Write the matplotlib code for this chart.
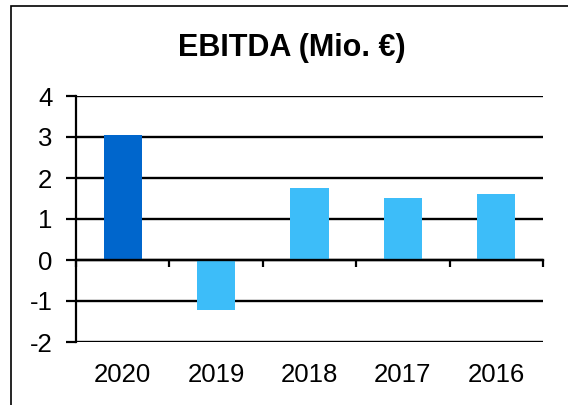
import matplotlib.pyplot as plt
from matplotlib.patches import Rectangle

# Daten
years = ['2020', '2019', '2018', '2017', '2016']
ebitda = [3.05, -1.23, 1.76, 1.52, 1.62]
bar_colors = ['#0066CC', '#3DBDF9', '#3DBDF9', '#3DBDF9', '#3DBDF9']
y_ticks = [-2, -1, 0, 1, 2, 3, 4]

plt.rcParams['font.family'] = ['Liberation Sans', 'DejaVu Sans']

fig = plt.figure(figsize=(5.68, 4.05), dpi=100)
ax = fig.add_axes([76 / 568, 1 - 342 / 405, 467 / 568, 246 / 405])

# Rahmen um die Grafik
fig.patches.append(Rectangle((11 / 568, -0.02), 1.0, 1 - 6 / 405 + 0.02,
                             transform=fig.transFigure, fill=False,
                             edgecolor='black', linewidth=1.2))

ax.bar(range(len(years)), ebitda, width=0.41, color=bar_colors, zorder=3)

ax.set_xlim(-0.5, len(years) - 0.5)
ax.set_ylim(-2, 4)
ax.set_yticks(y_ticks)
ax.set_yticklabels([str(t) for t in y_ticks], fontsize=18.5)
ax.grid(axis='y', color='black', linewidth=1.7, zorder=1)
ax.set_axisbelow(True)

# x-Achse bei 0, Striche an den Kategoriegrenzen
ax.spines['bottom'].set_position(('data', 0))
ax.spines['bottom'].set_linewidth(1.7)
ax.spines['bottom'].set_zorder(4)
ax.spines['left'].set_linewidth(1.6)
ax.spines['top'].set_visible(False)
ax.spines['right'].set_visible(False)
ax.set_xticks([i - 0.5 for i in range(len(years) + 1)])
ax.set_xticklabels([])
ax.tick_params(axis='x', which='major', direction='out', length=5, width=1.6)
ax.set_xticks(range(len(years)), minor=True)
ax.set_xticklabels(years, minor=True, fontsize=18.5)
ax.tick_params(axis='x', which='minor', length=0, pad=74)
ax.tick_params(axis='y', direction='out', length=7, width=1.6, pad=10)

fig.text(292 / 568, 1 - 56 / 405, 'EBITDA (Mio. €)', ha='center', va='baseline',
         fontsize=22, fontweight='bold')

plt.savefig('out.png', dpi=100)
